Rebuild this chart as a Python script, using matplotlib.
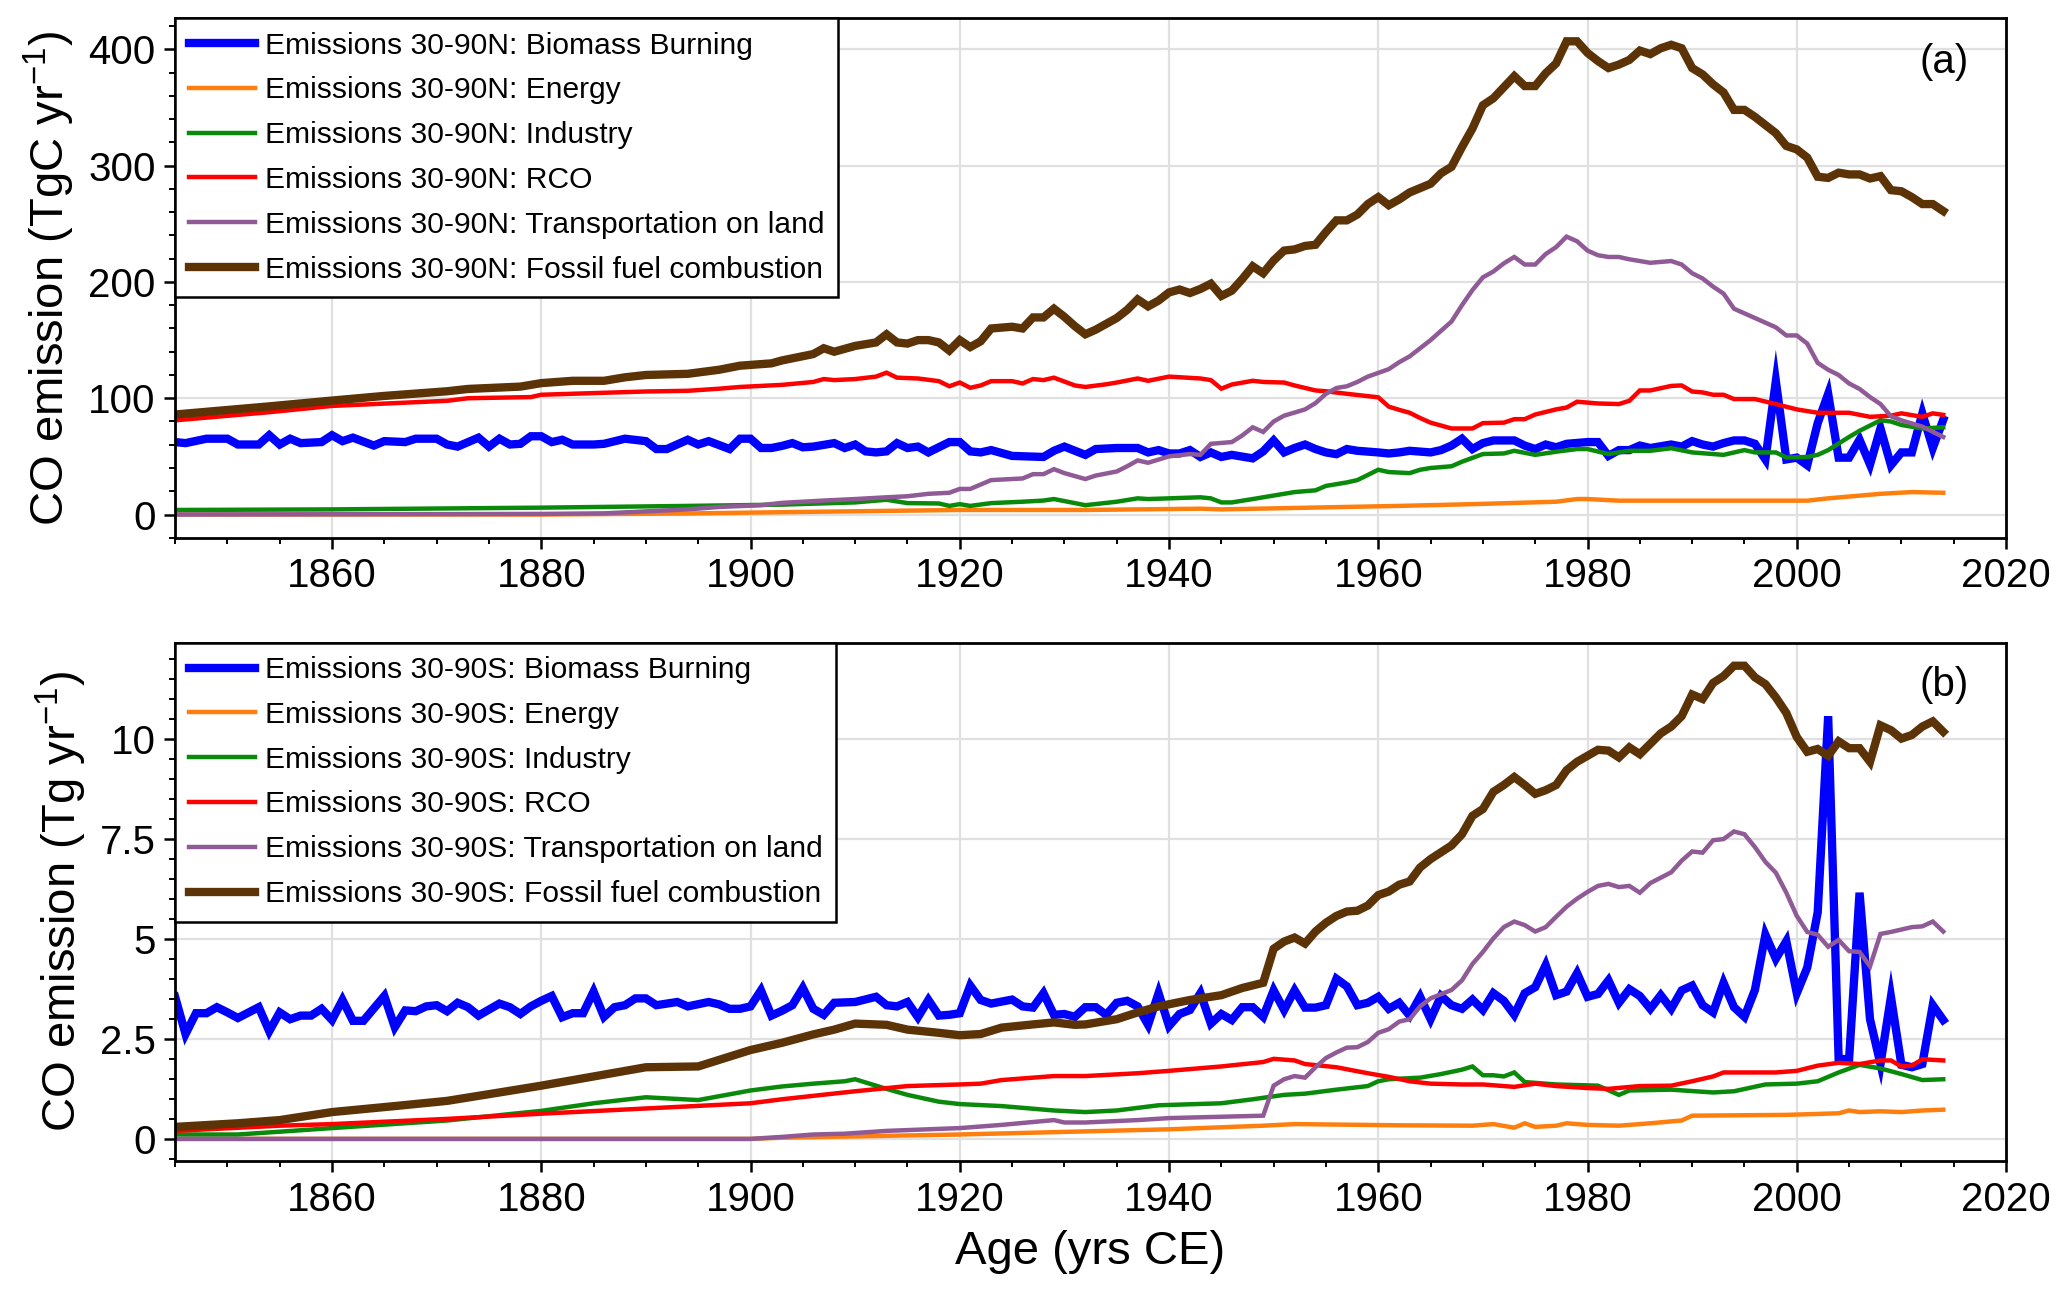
import matplotlib
matplotlib.use("Agg")
import matplotlib.pyplot as plt
from matplotlib.ticker import MultipleLocator, FixedLocator

plt.rcParams['font.family'] = ['Liberation Sans', 'DejaVu Sans']
plt.rcParams['mathtext.default'] = 'regular'

# ---------------- Panel (a): 30-90N (TgC/yr) ----------------
n_bb_years = [1845,1846,1848,1850,1851,1853,1854,1855,1856,1857,1859,1860,1861,1862,1864,1865,1867,1868,1870,1871,1872,1874,1875,1876,1877,1878,1879,1880,1881,1882,1883,1885,1886,1888,1890,1891,1892,1894,1895,1896,1898,1899,1900,1901,1902,1903,1904,1905,1906,1908,1909,1910,1911,1912,1913,1914,1915,1916,1917,1919,1920,1921,1922,1923,1925,1928,1929,1930,1932,1933,1935,1937,1938,1939,1940,1941,1942,1943,1944,1945,1946,1948,1949,1950,1951,1952,1953,1954,1955,1956,1957,1958,1960,1961,1962,1963,1965,1966,1967,1968,1969,1970,1971,1973,1974,1975,1976,1977,1978,1980,1981,1982,1983,1984,1985,1986,1988,1989,1990,1991,1992,1993,1994,1995,1996,1997,1998,1999,2000,2001,2002,2003,2004,2005,2006,2007,2008,2009,2010,2011,2012,2013,2014]
n_bb = [62.3,61.4,65.2,65.2,60.2,60.2,68.2,60.2,65.2,61.4,62.3,68.2,63.1,66.1,59.3,63.1,62.3,65.2,65.2,60.2,58.4,66.1,58.4,65.2,60.2,60.8,67.3,67.3,62.3,64.3,60.2,60.2,60.8,65.2,63.1,56.3,56.3,64.3,60.2,63.1,56.3,65.2,65.2,57.2,57.2,59.0,61.4,57.8,58.4,61.4,57.2,60.2,54.3,53.4,54.3,61.4,57.2,58.4,53.4,62.3,62.3,54.3,53.4,55.4,50.4,49.5,54.8,58.4,51.3,56.3,57.2,57.2,53.4,55.4,52.5,52.5,55.4,49.5,53.4,49.5,51.3,48.3,54.3,63.7,53.4,57.2,60.2,56.3,53.4,51.9,56.3,54.8,53.4,52.5,53.4,54.8,53.4,55.4,59.3,65.2,56.3,61.4,63.7,63.7,59.3,56.3,60.2,57.8,60.8,62.3,62.3,50.4,55.4,55.4,59.3,57.2,60.2,58.4,63.1,60.2,58.4,61.4,63.7,63.7,60.8,47.4,114.7,47.4,48.9,42.4,78.6,103.8,48.9,48.9,64.3,43.0,74.1,42.4,53.4,53.4,86.9,57.2,81.5]

n_energy_years = [1845,1880,1894,1903,1920,1932,1943,1945,1962,1969,1977,1979,1980,1983,2001,2003,2008,2011,2014]
n_energy = [0,0,0.9,2.0,3.9,3.9,5.0,4.4,7.4,8.9,11.0,13.3,13.3,11.9,11.9,13.9,17.8,19.3,18.7]

n_ind_years = [1845,1860,1880,1894,1903,1910,1913,1915,1918,1919,1920,1921,1923,1926,1928,1929,1931,1932,1935,1937,1938,1940,1943,1944,1945,1946,1948,1950,1952,1954,1955,1957,1958,1959,1960,1961,1963,1964,1965,1967,1968,1970,1972,1973,1975,1977,1979,1980,1982,1984,1986,1988,1990,1993,1995,1996,1998,1999,2001,2002,2003,2005,2006,2008,2009,2010,2012,2014]
n_ind = [3.9,4.4,5.9,7.4,8.5,10.4,12.7,9.8,9.5,7.4,8.9,7.4,9.8,11.0,12.0,13.3,9.8,8.0,11.0,13.9,13.3,13.9,14.8,13.9,10.4,10.4,13.3,16.3,19.3,20.8,24.6,27.6,29.6,34.0,38.5,36.5,35.6,38.5,40.0,41.5,45.4,52.0,52.5,54.8,51.3,54.0,56.3,56.3,52.0,54.8,54.8,57.0,53.4,51.3,55.4,53.4,53.4,49.0,49.5,51.3,55.4,66.7,72.0,81.0,80.0,77.0,74.0,75.0]

n_rco_years = [1845,1854,1860,1871,1873,1879,1880,1886,1890,1894,1897,1899,1903,1906,1907,1908,1910,1912,1913,1914,1916,1918,1919,1920,1921,1922,1923,1925,1926,1927,1928,1929,1931,1932,1934,1935,1937,1938,1940,1943,1944,1945,1946,1948,1949,1951,1952,1954,1955,1957,1960,1961,1962,1963,1964,1965,1967,1969,1970,1972,1973,1974,1975,1977,1978,1979,1981,1983,1984,1985,1986,1988,1989,1990,1991,1992,1993,1994,1996,1998,2000,2002,2005,2007,2009,2010,2012,2013,2014]
n_rco = [81.0,88.0,93.4,97.8,100.0,101.0,103.0,104.7,105.8,106.4,108.2,109.7,111.5,114.0,116.5,115.6,116.5,118.6,122.0,117.7,117.0,114.7,110.3,113.5,109.0,111.0,114.7,114.7,112.7,116.5,115.6,117.7,111.0,109.7,112.0,113.5,117.0,115.0,118.6,117.0,115.6,108.2,111.8,115.0,114.0,113.5,111.0,106.7,106.0,103.8,100.8,92.8,90.0,87.5,83.0,79.0,74.0,74.0,78.6,79.0,82.0,82.0,86.0,90.4,92.0,97.0,95.5,95.0,97.8,106.7,106.7,110.6,111.0,105.8,105.0,103.0,103.0,99.3,99.3,95.0,90.4,87.5,87.5,84.0,85.0,87.0,84.0,87.0,85.7]

n_trans_years = [1845,1880,1886,1894,1897,1901,1903,1907,1910,1913,1915,1917,1919,1920,1921,1923,1926,1927,1928,1929,1930,1932,1933,1935,1936,1937,1938,1940,1942,1943,1944,1946,1947,1948,1949,1950,1951,1953,1954,1955,1956,1957,1958,1959,1961,1962,1963,1965,1967,1968,1969,1970,1971,1972,1973,1974,1975,1976,1977,1978,1979,1980,1981,1982,1983,1984,1986,1988,1989,1990,1991,1992,1993,1994,1995,1997,1998,1999,2000,2001,2002,2003,2004,2005,2006,2007,2008,2009,2010,2012,2014]
n_trans = [0,0.5,1.0,4.4,6.5,8.0,10.0,12.0,13.3,14.8,15.7,17.8,18.7,22.0,22.0,29.6,31.0,34.7,34.7,39.0,35.6,30.5,33.5,37.0,41.5,46.5,44.5,50.0,52.0,51.3,60.8,62.3,68.0,75.0,71.0,80.0,85.0,90.4,95.8,103.8,108.8,110.3,114.0,118.6,125.0,131.0,136.0,150.0,166.0,180.0,193.0,204.0,209.0,216.0,221.5,215.0,215.0,224.0,230.0,239.0,235.0,227.0,223.0,221.5,221.5,219.5,216.5,218.0,215.0,207.5,203.0,196.0,190.0,177.0,173.0,165.0,161.0,154.0,154.0,147.0,130.4,124.5,120.0,112.7,108.0,101.0,95.0,84.5,81.0,75.6,66.7]

n_ffc_years = [1845,1854,1860,1865,1871,1873,1878,1880,1883,1886,1888,1890,1894,1897,1899,1902,1903,1906,1907,1908,1910,1912,1913,1914,1915,1916,1917,1918,1919,1920,1921,1922,1923,1925,1926,1927,1928,1929,1930,1931,1932,1933,1935,1936,1937,1938,1939,1940,1941,1942,1943,1944,1945,1946,1947,1948,1949,1950,1951,1952,1953,1954,1955,1956,1957,1958,1959,1960,1961,1962,1963,1965,1966,1967,1968,1969,1970,1971,1972,1973,1974,1975,1976,1977,1978,1979,1980,1981,1982,1983,1984,1985,1986,1987,1988,1989,1990,1991,1992,1993,1994,1995,1996,1997,1998,1999,2000,2001,2002,2003,2004,2005,2006,2007,2008,2009,2010,2011,2012,2013,2014]
n_ffc = [86,93,98,102,106,108,110,113,115,115,118,120,121,124.5,128,130,132.5,138,143,140,145,148,155,148,147,150,150,148,141,150,144,149,160,161.5,160,169.5,169.5,177,170,162,155,159,169,176,185,179,184,191,193.5,190.5,194,198.5,188,192.5,202.5,213.5,207.5,218.5,227,228,231,232,243,253,253,258,267,273,266,271,277,284.5,293.5,299,316,332,352,358,367.5,377,368.5,368.5,379.5,388,407,407,397,390,384,387,391,399,396,401,404,401,384,378.5,370,363,348,348,342,335,328,317,314,307,290.5,289.5,294,292.5,292.5,289,291,279,278,273,267,267,261]

# ---------------- Panel (b): 30-90S (Tg/yr) ----------------
s_bb_years = [1845,1846,1847,1848,1849,1850,1851,1853,1854,1855,1856,1857,1858,1859,1860,1861,1862,1863,1865,1866,1867,1868,1869,1870,1871,1872,1873,1874,1876,1877,1878,1879,1880,1881,1882,1883,1884,1885,1886,1887,1888,1889,1890,1891,1892,1893,1894,1896,1897,1898,1899,1900,1901,1902,1903,1904,1905,1906,1907,1908,1910,1912,1913,1914,1915,1916,1917,1918,1919,1920,1921,1922,1923,1925,1926,1927,1928,1929,1930,1931,1932,1933,1934,1935,1936,1937,1938,1939,1940,1941,1942,1943,1944,1945,1946,1947,1948,1949,1950,1951,1952,1953,1954,1955,1956,1957,1958,1959,1960,1961,1962,1963,1964,1965,1966,1967,1968,1969,1970,1971,1972,1973,1974,1975,1976,1977,1978,1979,1980,1981,1982,1983,1984,1985,1986,1987,1988,1989,1990,1991,1992,1993,1994,1995,1996,1997,1998,1999,2000,2001,2002,2003,2004,2005,2006,2007,2008,2009,2010,2011,2012,2013,2014]
s_bb = [3.55,2.62,3.14,3.14,3.29,3.16,3.02,3.29,2.69,3.16,2.99,3.08,3.08,3.25,2.97,3.47,2.95,2.95,3.57,2.79,3.21,3.19,3.31,3.34,3.19,3.40,3.29,3.08,3.38,3.29,3.12,3.31,3.45,3.57,3.04,3.14,3.14,3.68,3.05,3.29,3.34,3.51,3.51,3.34,3.38,3.42,3.31,3.42,3.36,3.25,3.25,3.31,3.71,3.08,3.20,3.34,3.77,3.25,3.10,3.40,3.42,3.55,3.34,3.31,3.42,3.04,3.47,3.08,3.10,3.14,3.83,3.47,3.38,3.48,3.31,3.28,3.64,3.10,3.12,3.05,3.29,3.29,3.10,3.40,3.45,3.31,2.85,3.64,2.82,3.12,3.22,3.64,2.88,3.12,2.97,3.29,3.29,3.05,3.71,3.22,3.71,3.28,3.28,3.34,4.00,3.81,3.34,3.40,3.55,3.25,3.40,3.08,3.55,2.99,3.57,3.34,3.25,3.48,3.22,3.64,3.45,3.10,3.64,3.79,4.34,3.59,3.68,4.14,3.55,3.62,3.96,3.40,3.74,3.57,3.25,3.59,3.25,3.71,3.83,3.34,3.16,3.90,3.29,3.05,3.72,5.10,4.50,4.94,3.64,4.28,5.66,10.56,2.00,1.99,6.15,2.99,1.87,3.55,1.85,1.79,1.87,3.34,2.97]

s_energy_years = [1845,1900,1903,1920,1940,1949,1952,1962,1969,1971,1973,1974,1975,1977,1978,1980,1983,1986,1989,1990,1999,2004,2005,2006,2008,2010,2012,2014]
s_energy = [0,0,0.03,0.11,0.24,0.33,0.37,0.34,0.33,0.37,0.28,0.39,0.30,0.33,0.39,0.35,0.33,0.39,0.46,0.58,0.60,0.64,0.71,0.67,0.69,0.67,0.71,0.73]

s_ind_years = [1845,1851,1855,1860,1871,1880,1885,1890,1895,1900,1903,1906,1909,1910,1913,1915,1918,1920,1924,1929,1932,1935,1939,1945,1948,1951,1953,1956,1959,1960,1961,1964,1966,1968,1969,1970,1971,1972,1973,1974,1977,1981,1983,1984,1988,1992,1994,1997,2000,2002,2004,2006,2008,2010,2012,2014]
s_ind = [0.11,0.11,0.18,0.27,0.46,0.70,0.89,1.04,0.97,1.21,1.31,1.38,1.44,1.49,1.25,1.10,0.93,0.87,0.82,0.71,0.67,0.71,0.84,0.89,0.99,1.10,1.13,1.23,1.32,1.44,1.49,1.53,1.62,1.73,1.81,1.59,1.59,1.56,1.66,1.42,1.36,1.33,1.10,1.21,1.23,1.16,1.19,1.36,1.38,1.44,1.66,1.85,1.76,1.62,1.47,1.49]

s_rco_years = [1845,1855,1860,1871,1880,1890,1900,1903,1910,1915,1920,1922,1924,1929,1932,1937,1940,1945,1949,1950,1952,1953,1956,1959,1961,1963,1965,1968,1970,1972,1973,1975,1977,1980,1982,1985,1988,1990,1992,1993,1996,1998,2000,2002,2004,2006,2008,2009,2010,2011,2012,2014]
s_rco = [0.20,0.33,0.37,0.50,0.63,0.76,0.89,0.99,1.19,1.32,1.36,1.38,1.47,1.57,1.57,1.64,1.70,1.81,1.92,2.00,1.96,1.87,1.79,1.64,1.55,1.44,1.38,1.36,1.36,1.32,1.30,1.38,1.32,1.27,1.25,1.32,1.33,1.44,1.56,1.66,1.66,1.66,1.70,1.83,1.90,1.87,1.96,1.96,1.81,1.83,1.99,1.96]

s_trans_years = [1845,1900,1903,1906,1909,1913,1920,1924,1929,1930,1932,1937,1940,1949,1950,1951,1952,1953,1954,1955,1956,1957,1958,1959,1960,1961,1962,1963,1964,1965,1967,1968,1969,1970,1971,1972,1973,1974,1975,1976,1977,1978,1979,1980,1981,1982,1983,1984,1985,1986,1988,1989,1990,1991,1992,1993,1994,1995,1996,1997,1998,1999,2000,2001,2002,2003,2004,2005,2006,2007,2008,2009,2011,2012,2013,2014]
s_trans = [0,0,0.05,0.11,0.13,0.20,0.27,0.35,0.47,0.41,0.41,0.47,0.52,0.58,1.33,1.49,1.57,1.53,1.79,2.02,2.16,2.28,2.29,2.42,2.65,2.74,2.93,2.99,3.31,3.51,3.72,3.96,4.37,4.67,5.01,5.29,5.43,5.34,5.18,5.29,5.55,5.80,6.00,6.17,6.32,6.37,6.29,6.32,6.15,6.39,6.66,6.95,7.18,7.15,7.46,7.49,7.68,7.61,7.29,6.92,6.65,6.15,5.57,5.17,5.10,4.80,4.97,4.69,4.67,4.31,5.12,5.17,5.29,5.31,5.43,5.18]

s_ffc_years = [1845,1851,1855,1860,1866,1871,1876,1880,1885,1890,1895,1900,1903,1906,1908,1910,1913,1915,1918,1920,1922,1924,1927,1929,1931,1932,1935,1937,1939,1942,1945,1947,1949,1950,1951,1952,1953,1954,1955,1956,1957,1958,1959,1960,1961,1962,1963,1964,1965,1967,1968,1969,1970,1971,1972,1973,1974,1975,1976,1977,1978,1979,1980,1981,1982,1983,1984,1985,1986,1987,1988,1989,1990,1991,1992,1993,1994,1995,1996,1997,1998,1999,2000,2001,2002,2003,2004,2005,2006,2007,2008,2009,2010,2011,2012,2013,2014]
s_ffc = [0.30,0.39,0.47,0.67,0.82,0.95,1.16,1.33,1.56,1.79,1.81,2.22,2.40,2.61,2.73,2.88,2.85,2.73,2.65,2.59,2.62,2.78,2.86,2.91,2.85,2.86,2.99,3.16,3.31,3.47,3.59,3.77,3.90,4.75,4.93,5.03,4.88,5.18,5.40,5.57,5.68,5.70,5.83,6.09,6.18,6.35,6.43,6.78,6.99,7.33,7.61,8.07,8.24,8.67,8.84,9.04,8.84,8.62,8.71,8.84,9.21,9.42,9.57,9.72,9.70,9.53,9.78,9.61,9.87,10.13,10.30,10.56,11.10,10.99,11.39,11.56,11.82,11.82,11.53,11.36,11.03,10.64,10.04,9.67,9.74,9.57,9.93,9.76,9.76,9.42,10.33,10.21,10.00,10.09,10.30,10.43,10.17]

sector_names = ['Biomass Burning', 'Energy', 'Industry', 'RCO', 'Transportation on land', 'Fossil fuel combustion']
colors = ['#0000ff', '#ff7f0e', '#0a8a0a', '#ff0000', '#8f5a96', '#5c3306']
widths = [3.0, 1.6, 1.6, 1.6, 1.6, 3.0]

north = [(n_bb_years, n_bb), (n_energy_years, n_energy), (n_ind_years, n_ind),
         (n_rco_years, n_rco), (n_trans_years, n_trans), (n_ffc_years, n_ffc)]
south = [(s_bb_years, s_bb), (s_energy_years, s_energy), (s_ind_years, s_ind),
         (s_rco_years, s_rco), (s_trans_years, s_trans), (s_ffc_years, s_ffc)]

fig = plt.figure(figsize=(10.335, 6.49), dpi=200)
ax1 = fig.add_axes([0.0847, 0.5857, 0.8858, 0.4004])
ax2 = fig.add_axes([0.0847, 0.1053, 0.8858, 0.3997])

def style(ax):
    ax.set_xlim(1845, 2020)
    ax.xaxis.set_major_locator(MultipleLocator(20))
    ax.xaxis.set_minor_locator(MultipleLocator(5))
    ax.grid(True, which='major', color='#e0e0e0', linewidth=0.8)
    ax.set_axisbelow(True)
    ax.tick_params(which='major', direction='out', length=4, width=0.9, labelsize=14.5, pad=3,
                   top=False, right=False)
    ax.tick_params(which='minor', direction='out', length=2.2, width=0.7, top=False, right=False)
    for s in ax.spines.values():
        s.set_linewidth(1.0)

for ax, data, region in [(ax1, north, '30-90N'), (ax2, south, '30-90S')]:
    for (yrs, vals), name, c, w in zip(data, sector_names, colors, widths):
        ax.plot(yrs, vals, color=c, lw=w, label=f'Emissions {region}: {name}',
                solid_joinstyle='miter')
    style(ax)
    leg = ax.legend(loc='upper left', fontsize=10.8, frameon=True, fancybox=False,
                    borderaxespad=0, handlelength=2.2, labelspacing=0.56,
                    borderpad=0.45, handletextpad=0.35, framealpha=1)
    leg.get_frame().set_edgecolor('black')
    leg.get_frame().set_linewidth(0.9)

ax1.set_ylim(-20, 427)
ax1.yaxis.set_major_locator(MultipleLocator(100))
ax1.yaxis.set_minor_locator(MultipleLocator(20))
ax1.set_ylabel('CO emission (TgC yr$^{-1}$)', fontsize=17)
ax1.text(0.966, 0.915, '(a)', transform=ax1.transAxes, fontsize=14.5, ha='center', va='center')

ax2.set_ylim(-0.56, 12.4)
ax2.yaxis.set_major_locator(FixedLocator([0, 2.5, 5, 7.5, 10]))
ax2.set_yticklabels(['0', '2.5', '5', '7.5', '10'])
ax2.yaxis.set_minor_locator(MultipleLocator(0.5))
ax2.set_ylabel('CO emission (Tg yr$^{-1}$)', fontsize=17)
ax2.set_xlabel('Age (yrs CE)', fontsize=17)
ax2.text(0.966, 0.918, '(b)', transform=ax2.transAxes, fontsize=14.5, ha='center', va='center')

fig.savefig('out.png', dpi=200)
